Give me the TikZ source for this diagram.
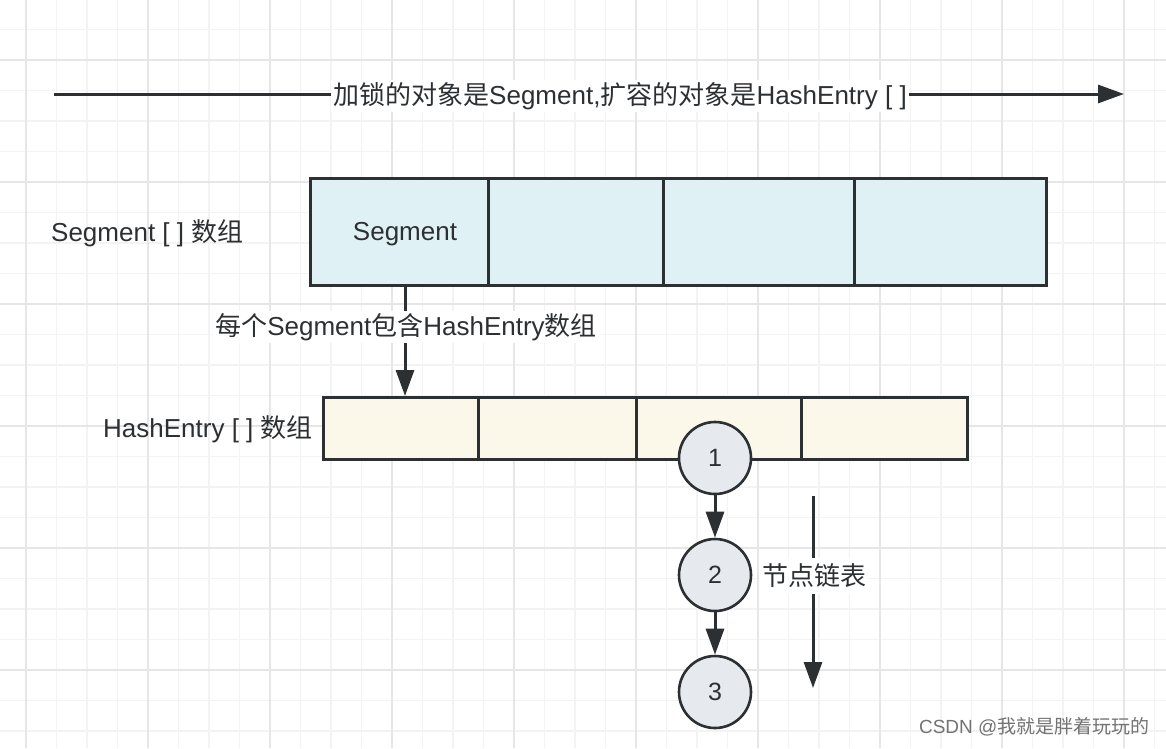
\documentclass[tikz,border=0pt]{standalone}
\usepackage{fontspec}
\setmainfont{Liberation Sans}
\newfontfamily\cjk{Noto Sans CJK SC}
\usetikzlibrary{arrows.meta}
\definecolor{ink}{HTML}{2D3033}
\definecolor{segfill}{HTML}{DFF1F5}
\definecolor{hefill}{HTML}{FCF8E9}
\definecolor{nodefill}{HTML}{E6E9ED}
\definecolor{gridminor}{HTML}{F3F3F3}
\definecolor{gridmajor}{HTML}{E6E6E6}
\tikzset{
  cell/.style={draw=ink, line width=2.6pt, minimum height=#1, inner sep=0pt},
  lbl/.style={font=\fontsize{26}{30}\selectfont, text=ink, inner sep=2pt},
  wlbl/.style={lbl, fill=white},
  listnode/.style={circle, draw=ink, line width=2.6pt, fill=nodefill, minimum size=72pt, inner sep=0pt, font=\fontsize{25}{28}\selectfont, text=ink},
  conn/.style={draw=ink, line width=3pt, -{Triangle[length=26pt,width=18pt]}},
}
\begin{document}
\begin{tikzpicture}[x=1pt,y=-1pt]
\useasboundingbox (0,0) rectangle (1166,748);
\fill[white] (0,0) rectangle (1166,748);
% grid
\foreach \i in {-3,...,38} {
  \pgfmathsetmacro\gx{26+30.5*\i}
  \draw[gridminor, line width=1.3pt] (\gx,0) -- (\gx,748);
}
\foreach \i in {-2,...,25} {
  \pgfmathsetmacro\gy{60+30.5*\i}
  \draw[gridminor, line width=1.3pt] (0,\gy) -- (1166,\gy);
}
\foreach \i in {0,...,9} {
  \pgfmathsetmacro\gx{26+122*\i}
  \draw[gridmajor, line width=1.8pt] (\gx,0) -- (\gx,748);
}
\foreach \i in {0,...,5} {
  \pgfmathsetmacro\gy{60+122*\i}
  \draw[gridmajor, line width=1.8pt] (0,\gy) -- (1166,\gy);
}
% title arrow
\coordinate (tl) at (54,94);
\coordinate (tr) at (1124,94);
\draw[conn] (tl) -- (tr);
\node[wlbl] (title) at (620,96) {{\cjk 加锁的对象是}Segment,{\cjk 扩容的对象是}HashEntry [ ]};
% segment array
\fill[segfill] (309,177) rectangle (1045,284);
\node[cell=107pt, minimum width=178pt, anchor=north west] (s1) at (309,177) {};
\node[cell=107pt, minimum width=175pt, anchor=north west] (s2) at (487,177) {};
\node[cell=107pt, minimum width=191pt, anchor=north west] (s3) at (662,177) {};
\node[cell=107pt, minimum width=192pt, anchor=north west] (s4) at (853,177) {};
\node[lbl] (segtxt) at (405,234) {Segment};
\node[lbl, anchor=west] (seglbl) at (49,233) {Segment [ ] {\cjk 数组}};
% hashentry array
\fill[hefill] (322,396) rectangle (966,458);
\node[cell=62pt, minimum width=155pt, anchor=north west] (h1) at (322,396) {};
\node[cell=62pt, minimum width=158pt, anchor=north west] (h2) at (477,396) {};
\node[cell=62pt, minimum width=165pt, anchor=north west] (h3) at (635,396) {};
\node[cell=62pt, minimum width=166pt, anchor=north west] (h4) at (800,396) {};
\node[lbl, anchor=west] (helbl) at (101,429) {HashEntry [ ] {\cjk 数组}};
% segment -> hashentry
\coordinate (sa) at (405,284);
\coordinate (sb) at (405,396);
\draw[conn] (sa) -- (sb);
\node[wlbl] (contains) at (406,327) {{\cjk 每个}Segment{\cjk 包含}HashEntry{\cjk 数组}};
% list nodes
\node[listnode] (n1) at (715,458) {1};
\node[listnode] (n2) at (715,575) {2};
\node[listnode] (n3) at (715,692) {3};
\draw[conn] (n1) -- (n2);
\draw[conn] (n2) -- (n3);
% list arrow
\coordinate (la) at (813,496);
\coordinate (lb) at (813,688);
\draw[conn] (la) -- (lb);
\node[wlbl, inner ysep=6pt] (listlbl) at (814,576) {\cjk 节点链表};
% watermark
\node[font=\fontsize{19}{22}\selectfont, text=black!55, anchor=east] (wm) at (1153,727) {CSDN @{\cjk 我就是胖着玩玩的}};
\end{tikzpicture}
\end{document}
